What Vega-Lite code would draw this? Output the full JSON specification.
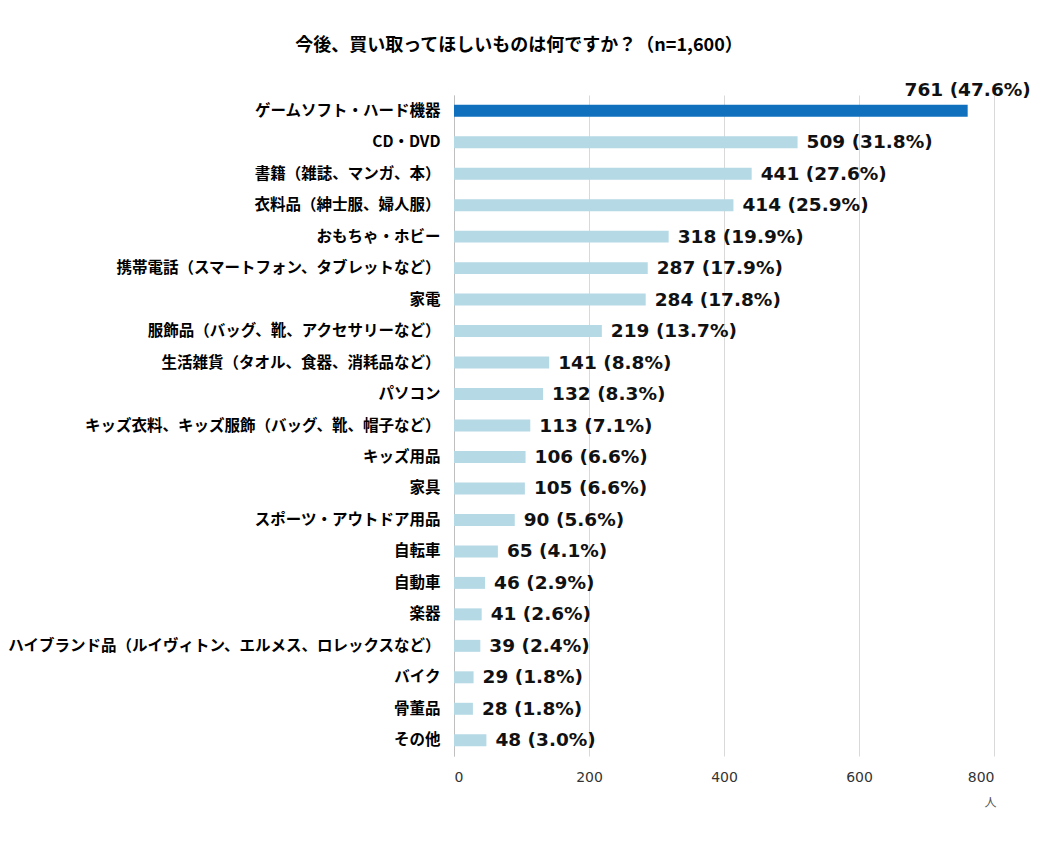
{
  "$schema": "https://vega.github.io/schema/vega-lite/v6.json",
  "width": 540,
  "height": 661,
  "autosize": "none",
  "padding": {"left": 454, "top": 95, "right": 50, "bottom": 92},
  "background": "white",
  "title": {
    "text": "今後、買い取ってほしいものは何ですか？（n=1,600）",
    "anchor": "middle",
    "frame": "group",
    "dx": -205,
    "offset": 26,
    "font": "Noto Sans CJK JP",
    "fontSize": 18,
    "fontWeight": "bold",
    "color": "#000000"
  },
  "data": {
    "values": [
      {"item": "ゲームソフト・ハード機器", "count": 761, "pct": 47.6},
      {"item": "CD・DVD", "count": 509, "pct": 31.8},
      {"item": "書籍（雑誌、マンガ、本）", "count": 441, "pct": 27.6},
      {"item": "衣料品（紳士服、婦人服）", "count": 414, "pct": 25.9},
      {"item": "おもちゃ・ホビー", "count": 318, "pct": 19.9},
      {"item": "携帯電話（スマートフォン、タブレットなど）", "count": 287, "pct": 17.9},
      {"item": "家電", "count": 284, "pct": 17.8},
      {"item": "服飾品（バッグ、靴、アクセサリーなど）", "count": 219, "pct": 13.7},
      {"item": "生活雑貨（タオル、食器、消耗品など）", "count": 141, "pct": 8.8},
      {"item": "パソコン", "count": 132, "pct": 8.3},
      {"item": "キッズ衣料、キッズ服飾（バッグ、靴、帽子など）", "count": 113, "pct": 7.1},
      {"item": "キッズ用品", "count": 106, "pct": 6.6},
      {"item": "家具", "count": 105, "pct": 6.6},
      {"item": "スポーツ・アウトドア用品", "count": 90, "pct": 5.6},
      {"item": "自転車", "count": 65, "pct": 4.1},
      {"item": "自動車", "count": 46, "pct": 2.9},
      {"item": "楽器", "count": 41, "pct": 2.6},
      {"item": "ハイブランド品（ルイヴィトン、エルメス、ロレックスなど）", "count": 39, "pct": 2.4},
      {"item": "バイク", "count": 29, "pct": 1.8},
      {"item": "骨董品", "count": 28, "pct": 1.8},
      {"item": "その他", "count": 48, "pct": 3.0}
    ]
  },
  "transform": [
    {"calculate": "datum.count + ' (' + format(datum.pct, '.1f') + '%)'", "as": "label"}
  ],
  "encoding": {
    "y": {
      "field": "item",
      "type": "nominal",
      "sort": null,
      "scale": {"paddingInner": 0.62, "paddingOuter": 0.31},
      "axis": {
        "title": null,
        "ticks": false,
        "domain": true,
        "domainColor": "#bfbfbf",
        "domainWidth": 1,
        "grid": false,
        "labelPadding": 14,
        "labelFont": "Noto Sans CJK JP",
        "labelFontSize": 15.5,
        "labelFontWeight": "bold",
        "labelColor": "#000000",
        "labelLimit": 600
      }
    },
    "x": {
      "field": "count",
      "type": "quantitative",
      "scale": {"domain": [0, 800]},
      "axis": {
        "values": [0, 200, 400, 600, 800],
        "domain": false,
        "ticks": false,
        "grid": true,
        "gridColor": "#d9d9d9",
        "labelPadding": 14,
        "labelFont": "DejaVu Sans",
        "labelFontSize": 14,
        "labelColor": "#333333",
        "title": "人",
        "titleFont": "Noto Sans CJK JP",
        "titleFontSize": 12,
        "titleFontWeight": "normal",
        "titleColor": "#555555",
        "titleAlign": "center",
        "titleBaseline": "middle",
        "titleX": 536,
        "titleY": 46
      }
    }
  },
  "layer": [
    {
      "mark": {"type": "bar"},
      "encoding": {
        "color": {
          "condition": {"test": "datum.count > 700", "value": "#1070bd"},
          "value": "#b5d9e5"
        }
      }
    },
    {
      "transform": [{"filter": "datum.count < 700"}],
      "mark": {"type": "text", "align": "left", "baseline": "middle", "dx": 9, "font": "DejaVu Sans", "fontSize": 18.5, "fontWeight": "bold", "color": "#111111"},
      "encoding": {"text": {"field": "label"}}
    },
    {
      "transform": [{"filter": "datum.count >= 700"}],
      "mark": {"type": "text", "align": "center", "baseline": "middle", "dy": -21, "font": "DejaVu Sans", "fontSize": 18.5, "fontWeight": "bold", "color": "#111111"},
      "encoding": {"text": {"field": "label"}}
    }
  ],
  "config": {
    "view": {"stroke": null}
  }
}
